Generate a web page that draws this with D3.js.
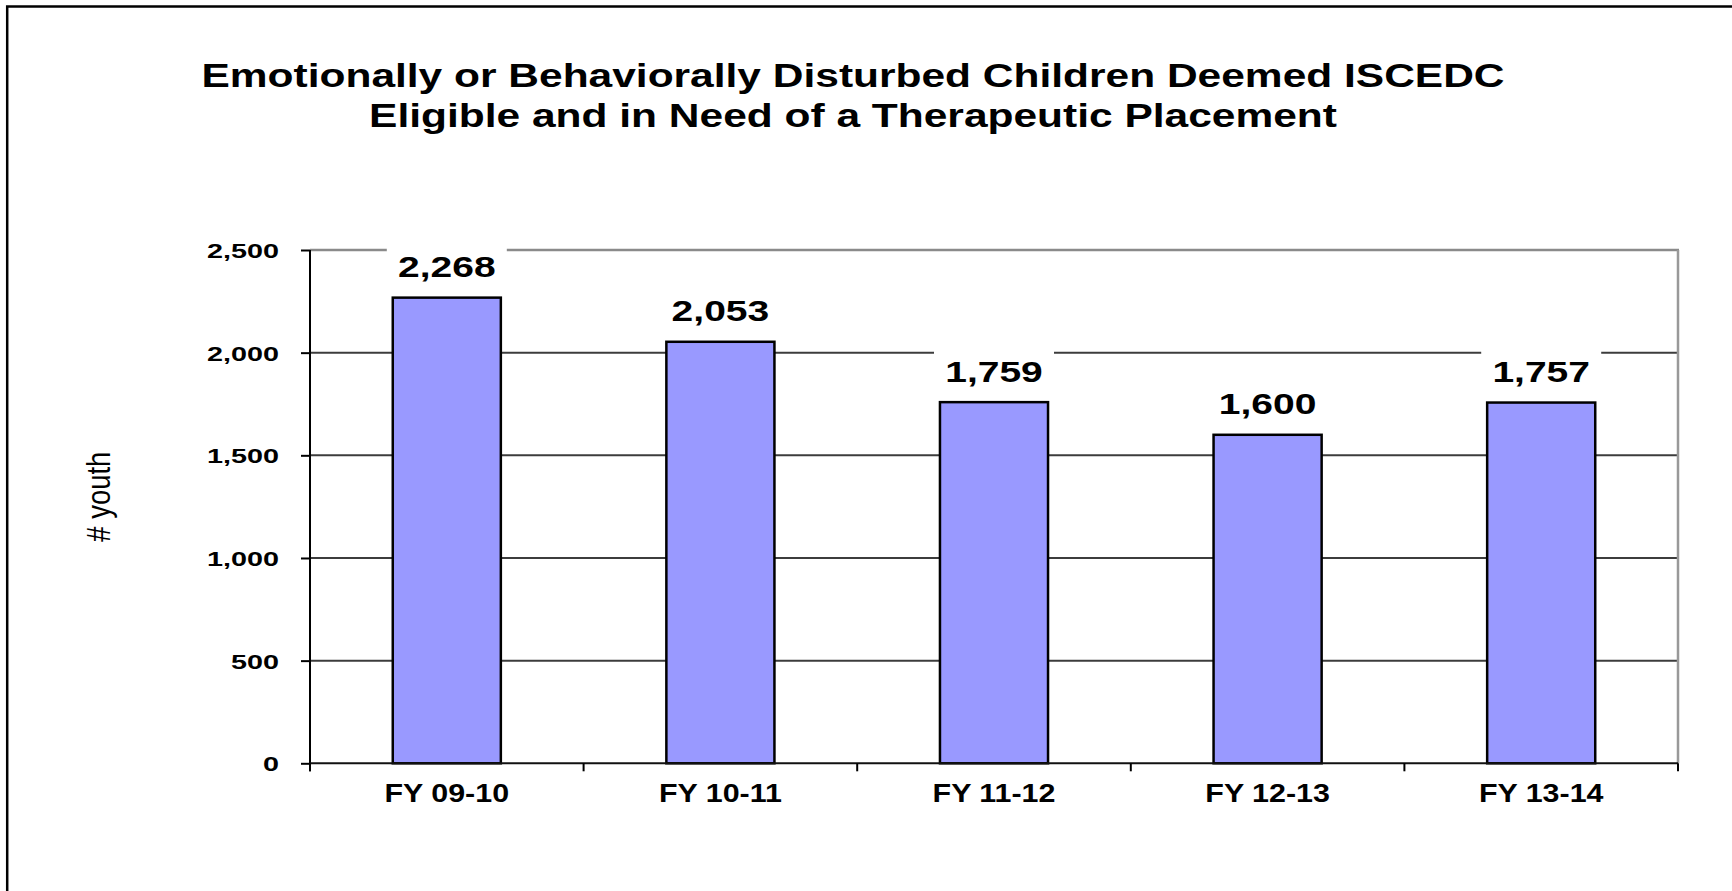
<!DOCTYPE html>
<html><head><meta charset="utf-8">
<script src="https://cdn.jsdelivr.net/npm/d3@7"></script>
<style>body{margin:0;background:#fff;} svg{display:block;font-family:"Liberation Sans",Arial,sans-serif;}</style>
</head><body><svg id="c" width="1732" height="891"></svg>
<script>
const titleLines = ["Emotionally or Behaviorally Disturbed Children Deemed ISCEDC", "Eligible and in Need of a Therapeutic Placement"];
const categories = ["FY 09-10", "FY 10-11", "FY 11-12", "FY 12-13", "FY 13-14"];
const values = [2268, 2053, 1759, 1600, 1757];
const yTicks = [0, 500, 1000, 1500, 2000, 2500];
const yLabel = "# youth";

const svg = d3.select("#c");
const L = 310, R = 1678, T = 250, B = 763.3;

const x = d3.scaleBand().domain(categories).range([L, R]).paddingInner(0.605).paddingOuter(0.3025);
const y = d3.scaleLinear().domain([0, 2500]).range([B, T]);

// outer frame
svg.append("rect").attr("x", 7.2).attr("y", 6.5).attr("width", 1800).attr("height", 1000)
  .attr("fill", "none").attr("stroke", "#000").attr("stroke-width", 2.5);

// title
svg.append("g").selectAll("text").data(titleLines).join("text")
  .attr("transform", (d, i) => `translate(853,${87.3 + i * 40}) scale(1.25,1)`)
  .attr("text-anchor", "middle").attr("font-weight", "bold").attr("font-size", 34)
  .attr("fill", "#000").text(d => d);

// gridlines
svg.append("g").selectAll("line").data(yTicks.filter(t => t > 0 && t < 2500)).join("line")
  .attr("x1", L).attr("x2", R).attr("y1", d => y(d)).attr("y2", d => y(d))
  .attr("stroke", "#3c3c3c").attr("stroke-width", 2);
// plot frame top & right
svg.append("line").attr("x1", L).attr("x2", R + 1).attr("y1", y(2500)).attr("y2", y(2500))
  .attr("stroke", "#8a8a8a").attr("stroke-width", 2.5);
svg.append("line").attr("x1", R).attr("x2", R).attr("y1", y(2500)).attr("y2", B)
  .attr("stroke", "#999").attr("stroke-width", 2.5);

// label backgrounds
const lblOff = 20.5;
svg.append("g").selectAll("rect").data(values).join("rect")
  .attr("x", (d, i) => x(categories[i]) + x.bandwidth() / 2 - 60)
  .attr("y", d => y(d) - lblOff - 32).attr("width", 120).attr("height", 38)
  .attr("fill", "#fff");

// bars
svg.append("g").selectAll("rect").data(values).join("rect")
  .attr("x", (d, i) => x(categories[i])).attr("width", x.bandwidth())
  .attr("y", d => y(d)).attr("height", d => B - y(d))
  .attr("fill", "#9999ff").attr("stroke", "#000").attr("stroke-width", 2.5);

// y axis
const ya = svg.append("g").attr("transform", `translate(${L},0)`)
  .call(d3.axisLeft(y).tickValues(yTicks).tickSize(9).tickSizeOuter(0).tickFormat(d3.format(",")));
ya.select(".domain").attr("stroke", "#000").attr("stroke-width", 2).attr("d", `M0,${T}V${B + 8}`);
ya.selectAll(".tick line").attr("stroke", "#000").attr("stroke-width", 2);
ya.selectAll(".tick text").attr("x", null).attr("dy", null)
  .attr("transform", "translate(-31,7.5) scale(1.37,1)")
  .attr("text-anchor", "end").attr("font-size", 21).attr("font-weight", "bold")
  .attr("font-family", "Liberation Sans, Arial, sans-serif").attr("fill", "#000");

// x axis (labels at band centres)
const xa = svg.append("g").attr("transform", `translate(0,${B})`)
  .call(d3.axisBottom(x).tickSize(0).tickSizeOuter(0));
xa.select(".domain").attr("stroke", "#111").attr("stroke-width", 2).attr("d", `M${L},0H${R}`);
xa.selectAll(".tick text").attr("y", null).attr("dy", null)
  .attr("transform", "translate(0,38.4) scale(1.216,1)")
  .attr("text-anchor", "middle").attr("font-size", 25).attr("font-weight", "bold")
  .attr("font-family", "Liberation Sans, Arial, sans-serif").attr("fill", "#000");
// x boundary ticks
const bounds = categories.map(c => x(c) - x.step() * x.paddingInner() / 2).concat([R]);
bounds[0] = L;
xa.append("g").selectAll("line").data(bounds).join("line")
  .attr("x1", d => d).attr("x2", d => d).attr("y1", 0).attr("y2", 8)
  .attr("stroke", "#000").attr("stroke-width", 2);

// value labels
svg.append("g").selectAll("text").data(values).join("text")
  .attr("transform", (d, i) => `translate(${x(categories[i]) + x.bandwidth() / 2},${y(d) - lblOff}) scale(1.3,1)`)
  .attr("text-anchor", "middle").attr("font-weight", "bold").attr("font-size", 30)
  .attr("fill", "#000").text(d => d3.format(",")(d));

// y label
svg.append("text").attr("transform", "translate(110,496.7) rotate(-90) scale(1.055,1.25)")
  .attr("text-anchor", "middle").attr("font-size", 26).attr("fill", "#000").text(yLabel);
</script></body></html>
